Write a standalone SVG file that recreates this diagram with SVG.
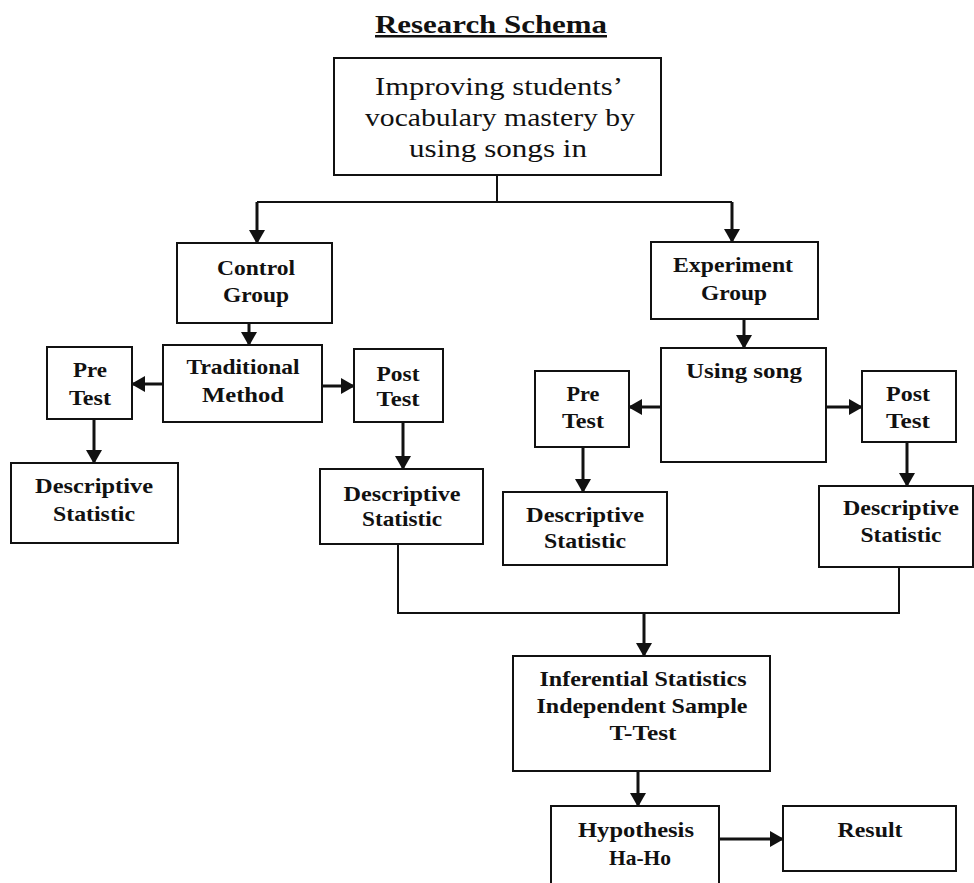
<svg xmlns="http://www.w3.org/2000/svg" width="974" height="883" viewBox="0 0 974 883">
<style>
  .box { fill: #ffffff; stroke: #111111; stroke-width: 2; }
  .t { font-family: "Liberation Serif", "Times New Roman", serif; font-weight: bold; font-size: 22px; fill: #111111; text-anchor: middle; }
  .m { font-family: "Liberation Serif", "Times New Roman", serif; font-size: 25px; fill: #111111; text-anchor: middle; }
  .title { font-family: "Liberation Serif", "Times New Roman", serif; font-weight: bold; font-size: 25px; fill: #111111; text-anchor: middle; text-decoration: underline; }
  .arr { stroke: #111111; stroke-width: 3; fill: none; marker-end: url(#ah); }
  .ln { stroke: #111111; stroke-width: 2; fill: none; }
</style>
<defs>
  <marker id="ah" markerUnits="userSpaceOnUse" markerWidth="14" markerHeight="16" refX="13" refY="8" orient="auto">
    <path d="M0,0 L14,8 L0,16 z" fill="#111111"/>
  </marker>
</defs>
<rect width="974" height="883" fill="#ffffff"/>

<text class="title" x="491" y="33" textLength="232" lengthAdjust="spacingAndGlyphs">Research Schema</text>

<g id="connectors">
  <polyline class="ln" points="497,175 497,202"/>
  <polyline class="ln" points="257,202 732,202"/>
  <line class="arr" x1="257" y1="202" x2="257" y2="243"/>
  <line class="arr" x1="732" y1="202" x2="732" y2="242"/>
  <line class="arr" x1="249" y1="323" x2="249" y2="345"/>
  <line class="arr" x1="163" y1="384" x2="132" y2="384"/>
  <line class="arr" x1="322" y1="386" x2="354" y2="386"/>
  <line class="arr" x1="94" y1="419" x2="94" y2="463"/>
  <line class="arr" x1="403" y1="422" x2="403" y2="469"/>
  <line class="arr" x1="744" y1="319" x2="744" y2="348"/>
  <line class="arr" x1="661" y1="407" x2="629" y2="407"/>
  <line class="arr" x1="826" y1="407" x2="862" y2="407"/>
  <line class="arr" x1="583" y1="447" x2="583" y2="492"/>
  <line class="arr" x1="907" y1="442" x2="907" y2="486"/>
  <polyline class="ln" points="398,544 398,613 899,613 899,567"/>
  <line class="arr" x1="644" y1="613" x2="644" y2="656"/>
  <line class="arr" x1="638" y1="771" x2="638" y2="806"/>
  <line class="arr" x1="719" y1="839" x2="783" y2="839"/>
</g>

<g id="main">
  <rect class="box" x="334" y="58" width="327" height="117"/>
  <text class="m" x="499" y="95" textLength="248" lengthAdjust="spacingAndGlyphs">Improving students’</text>
  <text class="m" x="500" y="126" textLength="270" lengthAdjust="spacingAndGlyphs">vocabulary mastery by</text>
  <text class="m" x="498" y="157" textLength="178" lengthAdjust="spacingAndGlyphs">using songs in</text>
</g>

<g id="control-group">
  <rect class="box" x="177" y="243" width="155" height="80"/>
  <text class="t" x="256" y="275" textLength="78" lengthAdjust="spacingAndGlyphs">Control</text>
  <text class="t" x="256" y="302" textLength="66" lengthAdjust="spacingAndGlyphs">Group</text>
</g>

<g id="traditional-method">
  <rect class="box" x="163" y="345" width="159" height="77"/>
  <text class="t" x="243" y="374" textLength="113" lengthAdjust="spacingAndGlyphs">Traditional</text>
  <text class="t" x="243" y="402" textLength="82" lengthAdjust="spacingAndGlyphs">Method</text>
</g>

<g id="pre-test-control">
  <rect class="box" x="47" y="347" width="85" height="72"/>
  <text class="t" x="90" y="377" textLength="34" lengthAdjust="spacingAndGlyphs">Pre</text>
  <text class="t" x="90" y="405" textLength="42" lengthAdjust="spacingAndGlyphs">Test</text>
</g>

<g id="post-test-control">
  <rect class="box" x="354" y="349" width="89" height="73"/>
  <text class="t" x="398" y="381" textLength="43" lengthAdjust="spacingAndGlyphs">Post</text>
  <text class="t" x="398" y="406" textLength="43" lengthAdjust="spacingAndGlyphs">Test</text>
</g>

<g id="descriptive-pre-control">
  <rect class="box" x="11" y="463" width="167" height="80"/>
  <text class="t" x="94" y="493" textLength="118" lengthAdjust="spacingAndGlyphs">Descriptive</text>
  <text class="t" x="94" y="521" textLength="82" lengthAdjust="spacingAndGlyphs">Statistic</text>
</g>

<g id="descriptive-post-control">
  <rect class="box" x="320" y="469" width="163" height="75"/>
  <text class="t" x="402" y="501" textLength="117" lengthAdjust="spacingAndGlyphs">Descriptive</text>
  <text class="t" x="402" y="526" textLength="80" lengthAdjust="spacingAndGlyphs">Statistic</text>
</g>

<g id="experiment-group">
  <rect class="box" x="651" y="242" width="167" height="77"/>
  <text class="t" x="733" y="272" textLength="120" lengthAdjust="spacingAndGlyphs">Experiment</text>
  <text class="t" x="734" y="300" textLength="66" lengthAdjust="spacingAndGlyphs">Group</text>
</g>

<g id="using-song">
  <rect class="box" x="661" y="348" width="165" height="114"/>
  <text class="t" x="744" y="378" textLength="116" lengthAdjust="spacingAndGlyphs">Using song</text>
</g>

<g id="pre-test-experiment">
  <rect class="box" x="535" y="371" width="94" height="76"/>
  <text class="t" x="583" y="401" textLength="33" lengthAdjust="spacingAndGlyphs">Pre</text>
  <text class="t" x="583" y="428" textLength="42" lengthAdjust="spacingAndGlyphs">Test</text>
</g>

<g id="post-test-experiment">
  <rect class="box" x="862" y="371" width="94" height="71"/>
  <text class="t" x="908" y="401" textLength="44" lengthAdjust="spacingAndGlyphs">Post</text>
  <text class="t" x="908" y="428" textLength="44" lengthAdjust="spacingAndGlyphs">Test</text>
</g>

<g id="descriptive-pre-experiment">
  <rect class="box" x="503" y="492" width="164" height="73"/>
  <text class="t" x="585" y="522" textLength="118" lengthAdjust="spacingAndGlyphs">Descriptive</text>
  <text class="t" x="585" y="548" textLength="82" lengthAdjust="spacingAndGlyphs">Statistic</text>
</g>

<g id="descriptive-post-experiment">
  <rect class="box" x="819" y="486" width="154" height="81"/>
  <text class="t" x="901" y="515" textLength="116" lengthAdjust="spacingAndGlyphs">Descriptive</text>
  <text class="t" x="901" y="542" textLength="81" lengthAdjust="spacingAndGlyphs">Statistic</text>
</g>

<g id="inferential-statistics">
  <rect class="box" x="513" y="656" width="257" height="115"/>
  <text class="t" x="643" y="686" textLength="207" lengthAdjust="spacingAndGlyphs">Inferential Statistics</text>
  <text class="t" x="642" y="713" textLength="211" lengthAdjust="spacingAndGlyphs">Independent Sample</text>
  <text class="t" x="643" y="740" textLength="67" lengthAdjust="spacingAndGlyphs">T-Test</text>
</g>

<g id="hypothesis">
  <rect class="box" x="551" y="806" width="168" height="90"/>
  <text class="t" x="636" y="837" textLength="116" lengthAdjust="spacingAndGlyphs">Hypothesis</text>
  <text class="t" x="640" y="865" textLength="62" lengthAdjust="spacingAndGlyphs">Ha-Ho</text>
</g>

<g id="result">
  <rect class="box" x="783" y="806" width="173" height="65"/>
  <text class="t" x="870" y="837" textLength="65" lengthAdjust="spacingAndGlyphs">Result</text>
</g>
</svg>
